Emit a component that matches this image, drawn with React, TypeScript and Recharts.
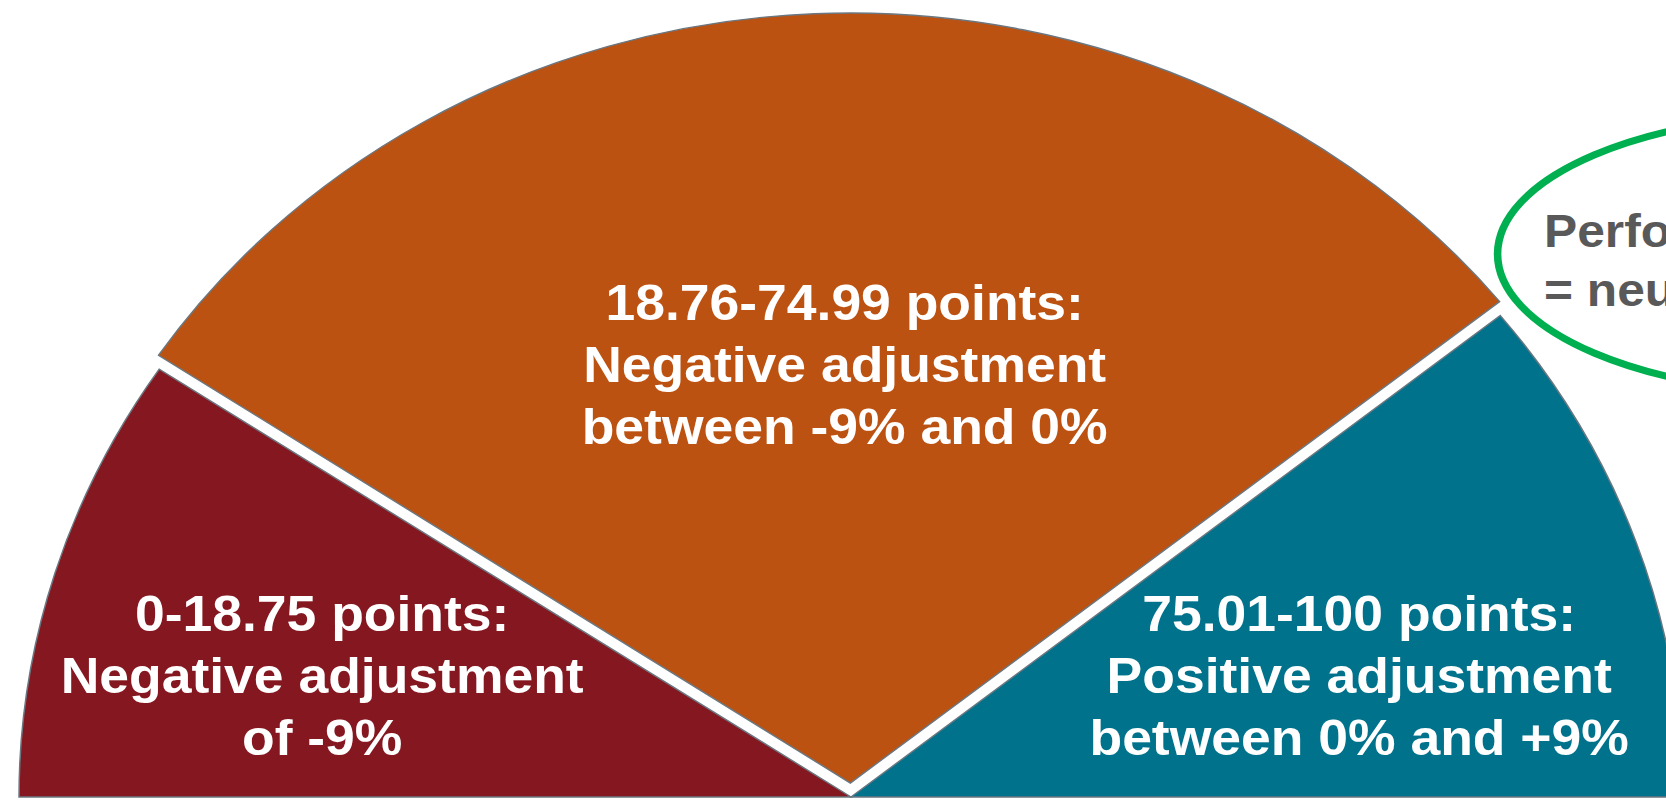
import { Pie, PieChart, Sector } from "recharts"

const RANGES = ["0-18.75 points:", "18.76-74.99 points:", "75.01-100 points:"]
const ADJUSTMENT = ["Negative adjustment", "Negative adjustment", "Positive adjustment"]
const AMOUNT = ["of -9%", "between -9% and 0%", "between 0% and +9%"]
// share of the half circle each band takes in the picture
const SHARE = [18.75, 59.75, 21.5]
const COLORS = ["#84171f", "#bc5212", "#00728b"]

const NOTE = ["Performance threshold", "= neutral adjustment"]

const data = RANGES.map((range, i) => ({ range, value: SHARE[i], fill: COLORS[i] }))

// the source picture is stretched sideways, so draw it round and scale the svg
const STRETCH = 1.0805
const W = 1542
const H = 801
const CX = 787.6
const CY = 797
const R = 770

const EXPLODE = [0, 14, 0]
const LABEL_R = [0.655, 0.562, 0.631]
const LABEL_TURN = [2.9, -1.7, -4.8]
const RAD = Math.PI / 180
const FONT = "'Liberation Sans', Arial, Helvetica, sans-serif"

const sliceIndex = (p: any) => RANGES.indexOf(p.range ?? p.payload?.range)

function SliceShape(props: any) {
  const { cx, cy, midAngle } = props
  const d = EXPLODE[sliceIndex(props)] ?? 0
  return (
    <Sector
      {...props}
      cx={cx + d * Math.cos(midAngle * RAD)}
      cy={cy - d * Math.sin(midAngle * RAD)}
      stroke="#6b7780"
      strokeWidth={1.4}
    />
  )
}

function SliceLabel(props: any) {
  const { cx, cy, midAngle, outerRadius } = props
  const i = sliceIndex(props)
  const a = (midAngle + LABEL_TURN[i]) * RAD
  const r = outerRadius * LABEL_R[i]
  const x = cx + r * Math.cos(a)
  const y = cy - r * Math.sin(a)
  return (
    <text x={x} y={y} textAnchor="middle" fill="#ffffff" fontSize={49.5} fontWeight={700} fontFamily={FONT}>
      <tspan x={x} y={y - 62 + 18}>{RANGES[i]}</tspan>
      <tspan x={x} y={y + 18}>{ADJUSTMENT[i]}</tspan>
      <tspan x={x} y={y + 62 + 18}>{AMOUNT[i]}</tspan>
    </text>
  )
}

export default function App() {
  return (
    <div style={{ position: "absolute", left: 0, top: 0, width: 1666, height: 801, overflow: "hidden", background: "#fff" }}>
      <div style={{ position: "absolute", left: 0, top: 0, width: W, height: H, transform: `scaleX(${STRETCH})`, transformOrigin: "left top" }}>
        <PieChart width={W} height={H} margin={{ top: 0, right: 0, bottom: 0, left: 0 }}>
          <Pie
            data={data}
            dataKey="value"
            nameKey="range"
            cx={CX}
            cy={CY}
            outerRadius={R}
            startAngle={180}
            endAngle={0}
            stroke="#6b7780"
            strokeWidth={1.4}
            shape={SliceShape}
            label={SliceLabel}
            labelLine={false}
            isAnimationActive={false}
          />
        </PieChart>
        <svg width={W} height={H} style={{ position: "absolute", left: 0, top: 0, pointerEvents: "none" }}>
          <ellipse cx={1691} cy={254} rx={305} ry={140} fill="none" stroke="#00b050" strokeWidth={7} />
          <text fill="#595959" fontSize={46} fontWeight={700} fontFamily={FONT}>
            <tspan x={1429} y={247}>{NOTE[0]}</tspan>
            <tspan x={1429} y={306}>{NOTE[1]}</tspan>
          </text>
        </svg>
      </div>
    </div>
  )
}
